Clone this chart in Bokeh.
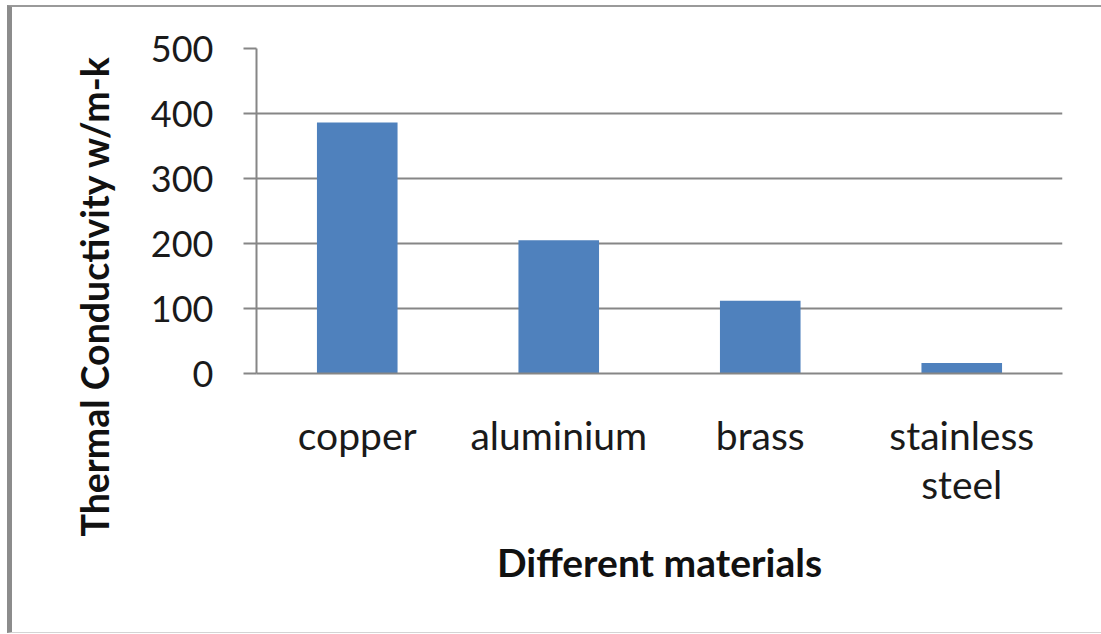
from bokeh.plotting import figure
from bokeh.models import Range1d, FixedTicker, Title, ColumnDataSource, LinearAxis
from bokeh.embed import file_html
from bokeh.resources import INLINE

materials = ["copper", "aluminium", "brass", "stainless steel"]
conductivity = [386, 205, 112, 16]
y_ticks = [0, 100, 200, 300, 400, 500]
label_line1 = ["copper", "aluminium", "brass", "stainless"]
label_line2 = ["", "", "", "steel"]
x_title = "Different materials"
y_title = "Thermal Conductivity w/m-k"

GRID = "#868686"
BAR = "#4f81bd"
FONT = "Lato"
TXT = "#1a1a1a"

xs = [i + 0.5 for i in range(len(materials))]
src = ColumnDataSource(dict(x=xs, v=conductivity, m=materials))

p = figure(x_range=Range1d(0, len(materials)), y_range=Range1d(0, 500),
           frame_width=806, frame_height=325,
           min_border_left=244, min_border_top=41, min_border_right=39, min_border_bottom=259,
           output_backend="svg", toolbar_location=None,
           background_fill_color="white", border_fill_color="white")
p.stylesheets = [":host { margin-left: 7px; margin-top: 5px; border-left: 5px solid #8c8c8c; "
                 "border-top: 2px solid #9a9a9a; border-bottom: 1px solid #d4d4d4; }"]
p.outline_line_color = None

p.vbar(x="x", top="v", width=0.40, source=src, fill_color=BAR, line_color=None)

p.xgrid.grid_line_color = None
p.ygrid.grid_line_color = GRID
p.ygrid.grid_line_width = 2
p.ygrid.ticker = FixedTicker(ticks=y_ticks)

ya = p.yaxis[0]
ya.ticker = FixedTicker(ticks=y_ticks)
ya.axis_line_color = GRID
ya.axis_line_width = 2
ya.major_tick_line_color = GRID
ya.major_tick_line_width = 2
ya.major_tick_out = 13
ya.major_tick_in = 0
ya.minor_tick_line_color = None
ya.major_label_standoff = 30
ya.major_label_text_font = FONT
ya.major_label_text_font_size = "36px"
ya.major_label_text_color = TXT

xa = p.xaxis[0]
xa.ticker = FixedTicker(ticks=xs)
xa.axis_line_color = GRID
xa.axis_line_width = 2
xa.major_tick_line_color = None
xa.minor_tick_line_color = None
xa.major_label_standoff = 32
xa.major_label_text_font = FONT
xa.major_label_text_font_size = "39px"
xa.major_label_text_color = TXT
xa.major_label_overrides = dict(zip(xs, label_line1))

xa2 = LinearAxis(ticker=FixedTicker(ticks=xs),
                 axis_line_color=None, major_tick_line_color=None, minor_tick_line_color=None,
                 major_label_standoff=-6, major_label_text_font=FONT,
                 major_label_text_font_size="39px", major_label_text_color=TXT,
                 major_label_overrides=dict(zip(xs, label_line2)),
                 axis_label=x_title, axis_label_standoff=29, axis_label_text_font=FONT,
                 axis_label_text_font_style="bold", axis_label_text_font_size="39px",
                 axis_label_text_color="#111111")
p.add_layout(xa2, "below")

ytitle = Title(text=y_title, align="left", offset=-163, vertical_align="middle",
               text_font=FONT, text_font_style="bold", text_font_size="37.5px",
               text_color="#111111", standoff=60)
p.add_layout(ytitle, "left")

open("out.html", "w").write(file_html(p, INLINE))
